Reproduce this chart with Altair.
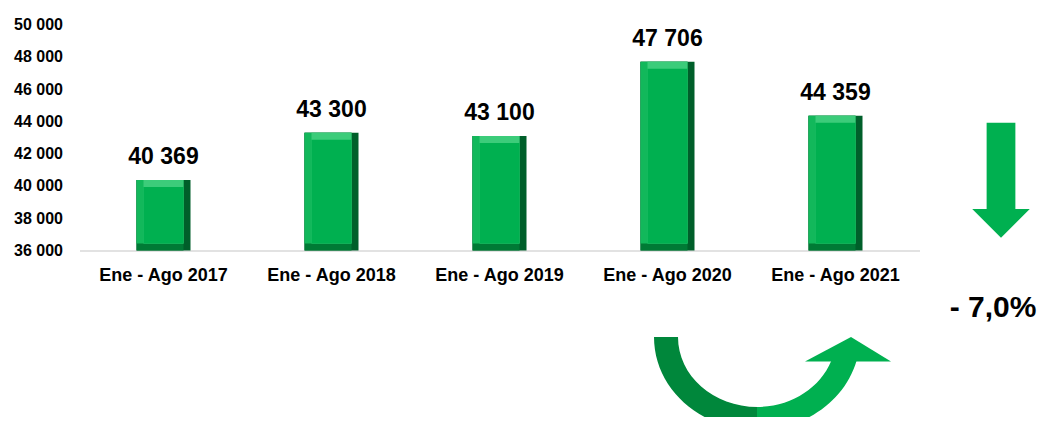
import altair as alt
import pandas as pd

# ---- data ----
categories = ["Ene - Ago 2017", "Ene - Ago 2018", "Ene - Ago 2019", "Ene - Ago 2020", "Ene - Ago 2021"]
values = [40369, 43300, 43100, 47706, 44359]
y_ticks = [36000, 38000, 40000, 42000, 44000, 46000, 48000, 50000]
y_min, y_max = 36000, 50000
change_label = "- 7,0%"

df = pd.DataFrame({"period": categories, "value": values})
one = pd.DataFrame({"k": [0]})
FONT = "Liberation Sans"

x_enc = alt.X(
    "period:N", sort=categories,
    scale=alt.Scale(paddingInner=0, paddingOuter=0),
    axis=alt.Axis(title=None, labelAngle=0, ticks=False, grid=False,
                  domainColor="#d9d9d9", domainWidth=1.5,
                  labelFont=FONT, labelFontSize=18, labelFontWeight="bold",
                  labelColor="#000000", labelPadding=16),
)
y_enc = alt.Y(
    "value:Q",
    scale=alt.Scale(domain=[y_min, y_max], zero=False, nice=False),
    axis=alt.Axis(title=None, values=y_ticks,
                  labelExpr="replace(format(datum.value, ','), ',', ' ')",
                  ticks=False, domain=False, grid=False,
                  labelFont=FONT, labelFontSize=16, labelFontWeight="bold",
                  labelColor="#000000", labelPadding=17),
)

base = alt.Chart(df).encode(x=x_enc, y=y_enc, y2=alt.datum(y_min))
bars = [
    base.mark_bar(width=54, color="#005f2a"),
    base.mark_bar(width=47, xOffset=-3.5, color="#007a35"),
    base.mark_bar(width=47, xOffset=-3.5, y2Offset=-7, color="#12b85b"),
    base.mark_bar(width=40, y2Offset=-7, color="#3ccc7a"),
    base.mark_bar(width=40, yOffset=7, y2Offset=-7, color="#00b050"),
]

labels = alt.Chart(df).transform_calculate(
    label="replace(format(datum.value, ','), ',', ' ')"
).mark_text(font=FONT, fontSize=23, fontWeight="bold", color="#000000",
            baseline="alphabetic", dy=-16).encode(x=x_enc, y=y_enc, text="label:N")

down_arrow = alt.Chart(one).mark_point(
    shape="M-0.25,-1 L0.25,-1 L0.25,0.5 L0.5,0.5 L0,1 L-0.5,0.5 L-0.25,0.5 Z",
    size=13225, filled=True, color="#00b050", opacity=1, strokeWidth=0,
).encode(x=alt.value(921.5), y=alt.value(155.5))

pct = alt.Chart(one).mark_text(
    text=change_label, font=FONT, fontSize=30, fontWeight="bold", color="#000000",
    align="center", baseline="alphabetic",
).encode(x=alt.value(913.5), y=alt.value(292.3))

arc_left = alt.Chart(one).mark_point(
    shape="M-103,0 C-103,51.4 -56.9,93 0.5,93 L0.5,70 C-43.6,70 -79,38.7 -79,0 Z",
    size=4, filled=True, color="#00873b", opacity=1, strokeWidth=0,
).encode(x=alt.value(677.5), y=alt.value(312.3))

arc_right = alt.Chart(one).mark_point(
    shape="M0,93 C46.6,93 87.4,64.7 99.5,24 L74.2,24 C62.8,51.6 33.2,70 0,70 Z",
    size=4, filled=True, color="#00b050", opacity=1, strokeWidth=0,
).encode(x=alt.value(677.5), y=alt.value(312.3))

arc_head = alt.Chart(one).mark_point(
    shape="M48,24.5 L94,0 L134,24.5 Z",
    size=4, filled=True, color="#00b050", opacity=1, strokeWidth=0,
).encode(x=alt.value(677.5), y=alt.value(312.3))

chart = alt.layer(*bars, labels, down_arrow, pct, arc_left, arc_right, arc_head).properties(
    width=840, height=225.7,
    autosize=alt.AutoSizeParams(type="none"),
    padding={"left": 71.5, "top": 16.7, "right": 118.5, "bottom": 166.6},
).configure_view(stroke=None)

chart.save("out.html", embed_options={"renderer": "svg", "actions": False})
